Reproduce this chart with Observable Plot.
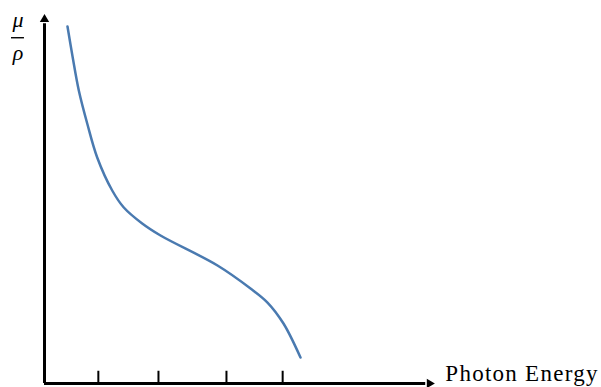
<!DOCTYPE html>
<html>
<head>
<meta charset="utf-8">
<script src="https://cdn.jsdelivr.net/npm/d3@7"></script>
<script src="https://cdn.jsdelivr.net/npm/@observablehq/plot@0.6"></script>
<style>
  html, body { margin: 0; padding: 0; background: #fff; }
  #chart svg { display: block; }
</style>
</head>
<body>
<div id="chart"></div>
<script>
// Arbitrary units (schematic chart, no numeric labels)
const energy = [5.85, 7.18, 8.73, 10.87, 13.41, 17.23, 20.18, 24.86, 29.52, 44.02, 52.42, 56.74, 60.81, 65.14];
const attenuation = [96.23, 87.87, 78.98, 70.08, 60.92, 52.02, 47.44, 43.13, 39.89, 31.81, 25.61, 21.83, 16.17, 7.01];
const tickPositions = [13.7, 29.0, 46.3, 60.6];
const xLabel = "Photon Energy";
const yLabelTop = "μ";
const yLabelBottom = "ρ";

// find an installed serif face
function hasFont(name) {
  const c = document.createElement("canvas").getContext("2d");
  const s = "Photon Energy μρ mmmWWWiii";
  for (const base of ["monospace", "sans-serif"]) {
    c.font = "40px " + base;
    const w0 = c.measureText(s).width;
    c.font = "40px '" + name + "', " + base;
    if (Math.abs(c.measureText(s).width - w0) > 0.5) return true;
  }
  return false;
}
const candidates = ["Liberation Serif", "Times New Roman", "Tinos", "DejaVu Serif", "Noto Serif", "FreeSerif", "Nimbus Roman", "Nimbus Roman No9 L", "Times"];
const found = candidates.filter(hasFont);
const serif = found.length ? found.map(f => "'" + f + "'").join(", ") + ", serif" : "serif";

const curve = energy.map((e, i) => ({energy: e, mu: attenuation[i]}));

const plot = Plot.plot({
  width: 601,
  height: 387,
  marginLeft: 44,
  marginRight: 164,
  marginTop: 12,
  marginBottom: 4,
  x: {domain: [0, 100], axis: null},
  y: {domain: [0, 100], axis: null},
  style: {background: "#fff", overflow: "visible"},
  marks: [
    // axes
    Plot.ruleY([0], {x1: 0, x2: 97, stroke: "#000", strokeWidth: 3}),
    Plot.ruleX([0], {y1: 0, y2: 97, stroke: "#000", strokeWidth: 3}),
    Plot.dot([{x: 97.96, y: 0}], {x: "x", y: "y", symbol: "triangle2", r: 4.46, rotate: 90, fill: "#000", stroke: "none"}),
    Plot.dot([{x: 0, y: 98.15}], {x: "x", y: "y", symbol: "triangle2", r: 4.46, rotate: 0, fill: "#000", stroke: "none"}),
    // ticks
    Plot.ruleX(tickPositions, {y1: 0, y2: 3.3, stroke: "#000", strokeWidth: 2}),
    // curve
    Plot.line(curve, {x: "energy", y: "mu", curve: "catmull-rom", stroke: "#4a7ab0", strokeWidth: 2.5}),
    // labels
    Plot.text([xLabel], {x: 102, y: 0, text: d => d, textAnchor: "start", fontSize: 23, fontFamily: serif, fill: "#000", dy: -10}),
    Plot.text([yLabelTop], {x: -6.74, y: 98.1, text: d => d, fontSize: 22, fontStyle: "italic", fontFamily: serif, fill: "#000"}),
    Plot.ruleY([93.2], {x1: -8.4, x2: -5.1, stroke: "#000", strokeWidth: 1.4}),
    Plot.text([yLabelBottom], {x: -6.74, y: 89.2, text: d => d, fontSize: 22, fontStyle: "italic", fontFamily: serif, fill: "#000"})
  ]
});
document.getElementById("chart").appendChild(plot);
plot.querySelectorAll("text").forEach(t => {
  t.setAttribute("font-family", serif);
  t.style.fontFamily = serif;
  if (t.textContent === xLabel) {
    const len = t.getComputedTextLength();
    const target = 152;
    let ls = (target - len) / (xLabel.length - 1);
    if (ls < -0.5) {
      const fs = 23 * target / len;
      t.setAttribute("font-size", fs.toFixed(2));
      t.style.fontSize = fs.toFixed(2) + "px";
      ls = 0;
    }
    t.setAttribute("letter-spacing", ls.toFixed(2));
  }
});
</script>
</body>
</html>
